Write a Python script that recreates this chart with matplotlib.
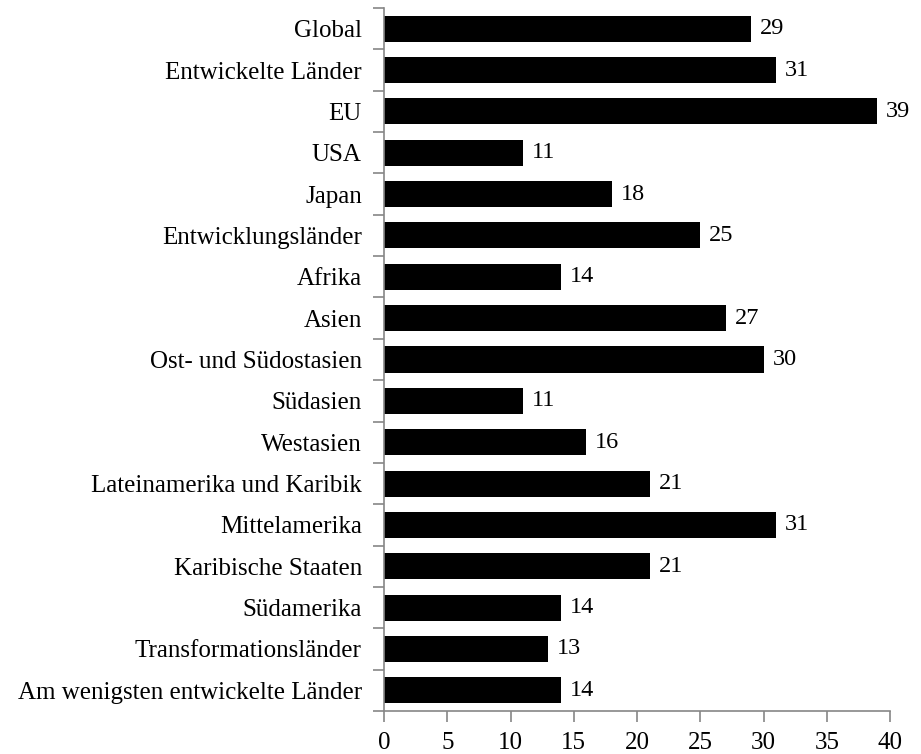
import matplotlib
matplotlib.use("Agg")
import matplotlib.pyplot as plt
import numpy as np

categories = ["Global", "Entwickelte Länder", "EU", "USA", "Japan", "Entwicklungsländer",
              "Afrika", "Asien", "Ost- und Südostasien", "Südasien", "Westasien",
              "Lateinamerika und Karibik", "Mittelamerika", "Karibische Staaten",
              "Südamerika", "Transformationsländer", "Am wenigsten entwickelte Länder"]
values = [29, 31, 39, 11, 18, 25, 14, 27, 30, 11, 16, 21, 31, 21, 14, 13, 14]
xticks = [0, 5, 10, 15, 20, 25, 30, 35, 40]

plt.rcParams['font.family'] = ['Liberation Serif', 'DejaVu Serif']

fig = plt.figure(figsize=(9.21, 7.54), dpi=100)
ax = fig.add_axes([384/921, 1-711/754, (890-384)/921, (711-8)/754])

y = np.arange(len(categories))
ax.barh(y, values, height=0.63, color='black')
for yi, v in zip(y, values):
    ax.text(v + 0.7, yi, str(v), va='center', ha='left', fontsize=17.5)

ax.set_xlim(0, 40)
ax.set_ylim(len(categories) - 0.5, -0.5)
ax.set_xticks(xticks)
ax.set_xticklabels([str(t) for t in xticks], fontsize=18)
ax.set_yticks(y)
ax.set_yticklabels(categories, fontsize=18)
ax.tick_params(axis='y', which='major', length=0, pad=16)
ax.set_yticks(np.arange(-0.5, len(categories) + 0.5, 1), minor=True)
ax.tick_params(axis='y', which='minor', length=8, color='#868686', width=1.2)
ax.tick_params(axis='x', which='major', length=8, color='#868686', width=1.2, pad=7)

for s in ['top', 'right']:
    ax.spines[s].set_visible(False)
for s in ['left', 'bottom']:
    ax.spines[s].set_color('#868686')
    ax.spines[s].set_linewidth(1.2)

fig.savefig("out.png", dpi=100)
